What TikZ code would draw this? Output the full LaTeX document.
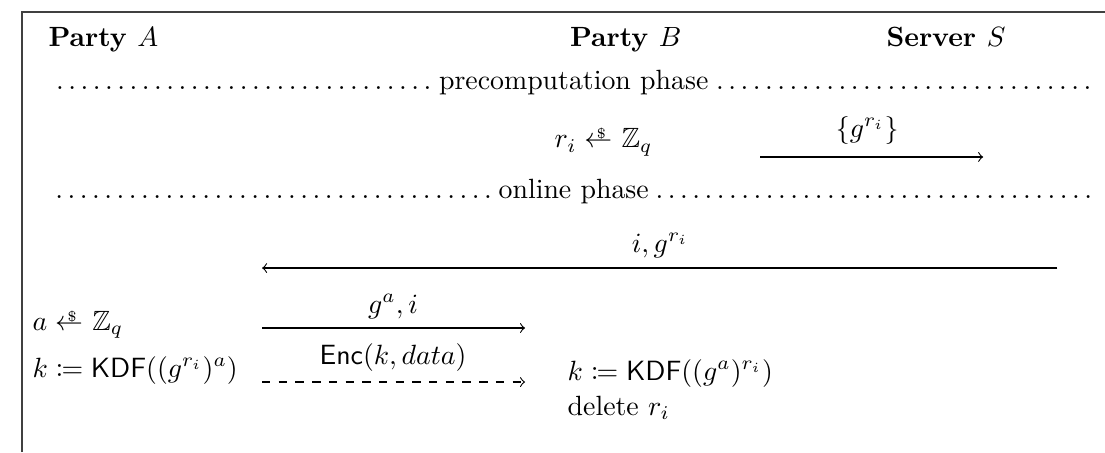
\documentclass[tikz,border=0pt]{standalone}
\usepackage{amsmath,amssymb,mathtools}
\usetikzlibrary{positioning}
\newcommand{\smpl}{\mathrel{{\leftarrow}\mkern-10mu\raisebox{0.75ex}{\tiny\$}\mkern5mu}}

\begin{document}
\begin{tikzpicture}[x=1cm,y=1cm,
    txt/.style={inner sep=0pt},
    party/.style={txt,font=\bfseries},
    flow/.style={->,line width=0.4pt}]
  \useasboundingbox (0,0) rectangle (13.95,5.707);
  \draw[line width=0.6pt,black!75] (0.278,0) -- (0.278,5.556) -- (13.95,5.556);
  % parties
  \node[party,anchor=base west] (partyA) at (0.606,5.114) {Party $A$};
  \node[party,anchor=base] (partyB) at (7.90,5.114) {Party $B$};
  \node[party,anchor=base east] (server) at (12.70,5.114) {Server $S$};
  % phases
  \foreach \y/\nm/\lbl in {4.571/pre/{precomputation phase}, 3.207/onl/{online phase}} {
    \node[txt,anchor=base west] (\nm) at (0.606,\y)
          {\makebox[13.26cm]{\dotfill\lbl\dotfill}};
  }
  % precomputation
  \node[txt,anchor=base] (sampleB) at (7.62,3.839) {$r_i \smpl \mathbb{Z}_q$};
  \coordinate (preB) at (9.597,3.725);
  \coordinate (preS) at (12.412,3.725);
  \draw[flow] (preB) -- (preS);
  \node[txt,anchor=base] (msgpre) at (10.948,3.977) {$\{g^{r_i}\}$};
  % online
  \coordinate (onS) at (13.347,2.323);
  \coordinate (onA) at (3.308,2.323);
  \draw[flow] (onS) -- (onA);
  \node[txt,anchor=base] (msgS) at (8.334,2.525) {$i, g^{r_i}$};
  \node[txt,anchor=base west] (sampleA) at (0.404,1.540) {$a \smpl \mathbb{Z}_q$};
  \coordinate (gaA) at (3.308,1.566);
  \coordinate (gaB) at (6.629,1.566);
  \draw[flow] (gaA) -- (gaB);
  \node[txt,anchor=base] (msgA) at (4.962,1.755) {$g^a, i$};
  \node[txt,anchor=base west] (keyA) at (0.404,0.947)
        {$k \coloneqq \mathsf{KDF}((g^{r_i})^a)$};
  \coordinate (encA) at (3.308,0.884);
  \coordinate (encB) at (6.629,0.884);
  \draw[flow,dashed] (encA) -- (encB);
  \node[txt,anchor=base] (msgenc) at (4.962,1.099) {$\mathsf{Enc}(k, data)$};
  \node[txt,anchor=base west] (keyB) at (7.160,0.909)
        {$k \coloneqq \mathsf{KDF}((g^a)^{r_i})$};
  \node[txt,anchor=base west] (delB) at (7.160,0.467) {delete $r_i$};
\end{tikzpicture}
\end{document}
